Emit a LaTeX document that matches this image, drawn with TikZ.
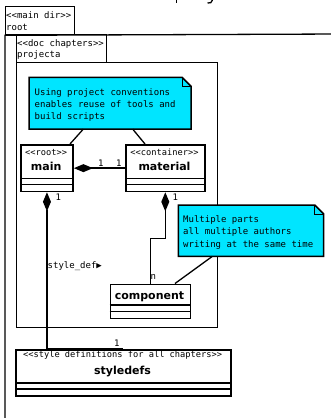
\documentclass[tikz,border=0pt]{standalone}
\usepackage{fontspec}
\setmonofont{DejaVu Sans Mono}
\setsansfont{DejaVu Sans}
\usetikzlibrary{arrows.meta}
\definecolor{notecyan}{RGB}{0,229,255}

\begin{document}
\begin{tikzpicture}[x=1pt,y=-1pt,
  pkg/.style={draw, line width=1.3pt},
  cls/.style={draw, line width=1.6pt, fill=white, inner sep=0pt},
  sepline/.style={line width=1.6pt},
  ster/.style={font=\ttfamily\fontsize{8.7}{10}\selectfont, inner sep=0pt, anchor=base},
  cname/.style={font=\sffamily\bfseries\fontsize{11}{13}\selectfont, inner sep=0pt, anchor=base},
  mono/.style={font=\ttfamily\fontsize{9}{12}\selectfont, inner sep=0pt, anchor=base west},
  notebox/.style={inner sep=0pt, anchor=north west},
  note/.style={draw=black, fill=notecyan, line width=1.5pt, line join=miter},
  link/.style={line width=1.4pt},
  notelink/.style={line width=1.3pt},
  comp/.style={line width=1.4pt},
]
\useasboundingbox (0,0) rectangle (331,418);

% fragments of the heading above the page edge
\draw[line width=1.3pt] (176.5,0) -- (176.5,3);
\draw[line width=1.3pt] (212.5,0) .. controls (212,3) and (210,3.2) .. (207.5,3);

% package "root"
\node[pkg, minimum width=69, minimum height=28, anchor=north west, inner sep=0pt] (roottab) at (5,6) {};
\node[mono] (roottabster) at (6,18) {<<main dir>>};
\node[mono] (roottabname) at (6,30.5) {root};
\coordinate (rootbodyR) at (340,34);
\coordinate (rootbodyB) at (5,430);
\draw[pkg] (rootbodyR) -- (roottab.south west) -- (rootbodyB);

% package "projecta"
\node[pkg, minimum width=90, minimum height=28, anchor=north west, inner sep=0pt] (projtab) at (16,34) {};
\node[mono] (projtabster) at (17,46) {<<doc chapters>>};
\node[mono] (projtabname) at (17,57) {projecta};
\node[pkg, minimum width=201, minimum height=265, anchor=north west, inner sep=0pt] (projbody) at (16,62) {};

% note about conventions
\node[notebox, minimum width=161.7, minimum height=51.4] (note1) at (29,77.3) {};
\draw[note] (note1.north west) -- ([xshift=-9pt]note1.north east) -- ([yshift=-9pt]note1.north east)
  -- (note1.south east) -- (note1.south west) -- cycle;
\draw[line width=1pt] ([xshift=-9pt]note1.north east) |- ([yshift=-9pt]note1.north east);
\node[mono] (note1a) at (34.5,95.5) {Using project conventions};
\node[mono] (note1b) at (34.5,107.5) {enables reuse of tools and};
\node[mono] (note1c) at (34.5,119.5) {build scripts};

% class "main"
\node[cls, minimum width=52.3, minimum height=46.7, anchor=north west] (main) at (20,144) {};
\draw[sepline] ([yshift=-34.5pt]main.north west) -- ([yshift=-34.5pt]main.north east);
\draw[sepline] ([yshift=-40.5pt]main.north west) -- ([yshift=-40.5pt]main.north east);
\node[ster] (mainster) at (46.2,155) {<<root>>};
\node[cname] (mainname) at (46.2,170) {main};

% class "material"
\node[cls, minimum width=79, minimum height=46.7, anchor=north west] (material) at (125,144) {};
\draw[sepline] ([yshift=-34.5pt]material.north west) -- ([yshift=-34.5pt]material.north east);
\draw[sepline] ([yshift=-40.5pt]material.north west) -- ([yshift=-40.5pt]material.north east);
\node[ster] (materialster) at (164.5,155) {<<container>>};
\node[cname] (materialname) at (164.5,170) {material};

% note about multiple parts
\node[notebox, minimum width=145, minimum height=51] (note2) at (178.3,205) {};
\draw[note] (note2.north west) -- ([xshift=-9pt]note2.north east) -- ([yshift=-9pt]note2.north east)
  -- (note2.south east) -- (note2.south west) -- cycle;
\draw[line width=1pt] ([xshift=-9pt]note2.north east) |- ([yshift=-9pt]note2.north east);
\node[mono] (note2a) at (183,222) {Multiple parts};
\node[mono] (note2b) at (183,234.5) {all multiple authors};
\node[mono] (note2c) at (183,247) {writing at the same time};

% class "component"
\node[cls, minimum width=80, minimum height=34, anchor=north west] (component) at (109.5,283.5) {};
\draw[sepline] ([yshift=-21.5pt]component.north west) -- ([yshift=-21.5pt]component.north east);
\draw[sepline] ([yshift=-28pt]component.north west) -- ([yshift=-28pt]component.north east);
\node[cname] (componentname) at (149.5,299) {component};

% class "styledefs"
\node[cls, minimum width=214.7, minimum height=46, anchor=north west] (styledefs) at (15.3,349) {};
\draw[sepline] ([yshift=-33.7pt]styledefs.north west) -- ([yshift=-33.7pt]styledefs.north east);
\draw[sepline] ([yshift=-40pt]styledefs.north west) -- ([yshift=-40pt]styledefs.north east);
\node[ster] (styledefsster) at (122.6,357.7) {<<style definitions for all chapters>>};
\node[cname] (styledefsname) at (122.6,374) {styledefs};

% note links
\draw[notelink] ([xshift=54.3pt]note1.south west) -- ([xshift=50pt]main.north west);
\draw[notelink] ([xshift=103.7pt]note1.south west) -- ([xshift=20pt]material.north west);
\draw[notelink] ([xshift=34pt]note2.south west) -- ([xshift=65.5pt]component.north west);

% compositions
\draw[comp, -{Diamond[length=19pt,width=8pt]}] (material.west) -- (main.east);
\node[mono] (lmm1) at (98,166) {1};
\node[mono] (lmm2) at (116,166) {1};

\draw[comp, {Diamond[length=19pt,width=8pt]}-] (main.south) |- (styledefs.north);
\node[mono] (lms1) at (55.5,200) {1};
\node[mono] (lms2) at (114,346.7) {1};
\node[mono] (lmsrole) at (47.5,268) {style\_def▶};

\draw[comp, {Diamond[length=19pt,width=8pt]}-] (material.south) -- ++(0,46) -| (component.north);
\node[mono] (lmc1) at (172.5,200) {1};
\node[mono] (lmcn) at (150.5,279) {n};
\end{tikzpicture}
\end{document}
